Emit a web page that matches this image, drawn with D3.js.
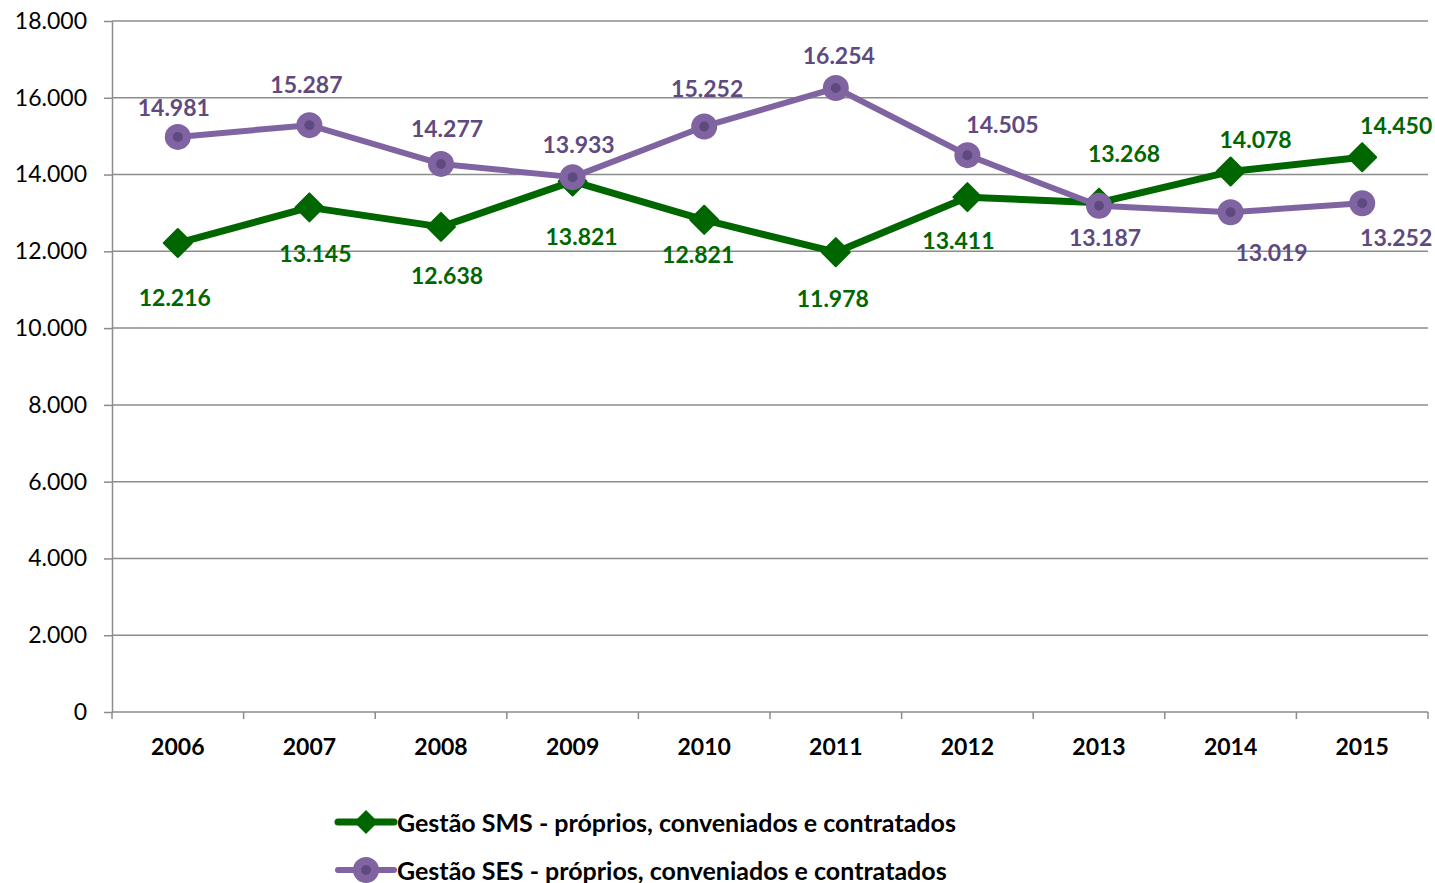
<!DOCTYPE html>
<html>
<head>
<meta charset="utf-8">
<script src="https://cdn.jsdelivr.net/npm/d3@7"></script>
<style>
  body { margin: 0; background: #fff; }
  svg { display: block; font-family: Lato, "Noto Sans", sans-serif; }
</style>
</head>
<body>
<svg width="1435" height="883"></svg>
<script>
const YEARS = ['2006', '2007', '2008', '2009', '2010', '2011', '2012', '2013', '2014', '2015'];
const SMS_VALUES = [12216, 13145, 12638, 13821, 12821, 11978, 13411, 13268, 14078, 14450];
const SES_VALUES = [14981, 15287, 14277, 13933, 15252, 16254, 14505, 13187, 13019, 13252];
const Y_TICKS = [0, 2000, 4000, 6000, 8000, 10000, 12000, 14000, 16000, 18000];
const SERIES_NAMES = ['Gestão SMS - próprios, conveniados e contratados', 'Gestão SES - próprios, conveniados e contratados'];

// label offsets (layout only), relative to the point
const SMS_LABEL_OFFSETS = [[-3, 54], [6, 46], [6, 48], [9, 55], [-6, 34], [-3, 46], [-9, 43], [25, -50], [25, -33], [34, -32]];
const SES_LABEL_OFFSETS = [[-4, -30], [-3, -41], [6, -36], [6, -33], [3, -38], [3, -33], [35, -31], [6, 31], [41, 40], [34, 34]];

const GREEN = '#006600';
const PURPLE = '#8064a2';
const PURPLE_DARK = '#5f4a80';
const GRID = '#8c8c8c';

const MARGIN = {left: 112, right: 1428, top: 21, bottom: 712};

const x = d3.scaleBand().domain(YEARS).range([MARGIN.left, MARGIN.right]);
const y = d3.scaleLinear().domain([0, 18000]).range([MARGIN.bottom, MARGIN.top]);
const fmt = d3.formatLocale({decimal: ',', thousands: '.', grouping: [3]}).format(',d');

const svg = d3.select('svg');

// gridlines
svg.append('g').selectAll('line').data(Y_TICKS.filter(d => d > 0)).enter()
    .append('line')
    .attr('x1', MARGIN.left).attr('x2', MARGIN.right)
    .attr('y1', d => y(d)).attr('y2', d => y(d))
    .attr('stroke', GRID).attr('stroke-width', 1.5);

// y axis
const yAxis = svg.append('g')
    .attr('transform', `translate(${MARGIN.left},0)`)
    .call(d3.axisLeft(y).tickValues(Y_TICKS).tickFormat(d => d === 0 ? '0' : fmt(d)).tickSize(8).tickSizeOuter(0).tickPadding(17));
yAxis.selectAll('line, path').attr('stroke', GRID).attr('stroke-width', 1.5);
yAxis.selectAll('text').attr('font-size', 23).attr('fill', '#000').attr('font-family', 'Lato');

// x axis: ticks at band boundaries
const xAxis = svg.append('g').attr('transform', `translate(0,${MARGIN.bottom})`);
xAxis.append('line').attr('x1', MARGIN.left).attr('x2', MARGIN.right)
    .attr('stroke', GRID).attr('stroke-width', 1.5);
xAxis.selectAll('.tk').data(YEARS.concat(['end'])).enter()
    .append('line')
    .attr('x1', (d, i) => MARGIN.left + i * x.step()).attr('x2', (d, i) => MARGIN.left + i * x.step())
    .attr('y1', 0).attr('y2', 7)
    .attr('stroke', GRID).attr('stroke-width', 1.5);
xAxis.selectAll('.yr').data(YEARS).enter()
    .append('text')
    .attr('x', d => x(d) + x.bandwidth() / 2)
    .attr('y', 34)
    .attr('dominant-baseline', 'central')
    .attr('text-anchor', 'middle')
    .attr('font-size', 23).attr('font-weight', 'bold')
    .text(d => d);

const line = d3.line().x((d, i) => x(YEARS[i]) + x.bandwidth() / 2).y(d => y(d));

// SMS series
svg.append('path').datum(SMS_VALUES)
    .attr('d', line).attr('fill', 'none')
    .attr('stroke', GREEN).attr('stroke-width', 7).attr('stroke-linejoin', 'round');
svg.append('g').selectAll('path').data(SMS_VALUES).enter()
    .append('path')
    .attr('transform', (d, i) => `translate(${x(YEARS[i]) + x.bandwidth() / 2},${y(d)})`)
    .attr('d', 'M0,-14L14,0L0,14L-14,0Z')
    .attr('fill', GREEN).attr('stroke', GREEN).attr('stroke-width', 2).attr('stroke-linejoin', 'round');

// SES series
svg.append('path').datum(SES_VALUES)
    .attr('d', line).attr('fill', 'none')
    .attr('stroke', PURPLE).attr('stroke-width', 6).attr('stroke-linejoin', 'round');
svg.append('g').selectAll('circle').data(SES_VALUES).enter()
    .append('circle')
    .attr('cx', (d, i) => x(YEARS[i]) + x.bandwidth() / 2)
    .attr('cy', d => y(d))
    .attr('r', 9)
    .attr('fill', PURPLE_DARK).attr('stroke', PURPLE).attr('stroke-width', 8);

// data labels
function labels(values, offsets, color) {
    svg.append('g').selectAll('text').data(values).enter()
        .append('text')
        .attr('x', (d, i) => x(YEARS[i]) + x.bandwidth() / 2 + offsets[i][0])
        .attr('y', (d, i) => y(d) + offsets[i][1])
        .attr('text-anchor', 'middle')
        .attr('dominant-baseline', 'central')
        .attr('font-size', 23).attr('font-weight', 'bold')
        .attr('fill', color)
        .text(d => fmt(d));
}
labels(SMS_VALUES, SMS_LABEL_OFFSETS, GREEN);
labels(SES_VALUES, SES_LABEL_OFFSETS, PURPLE_DARK);

// legend
const legend = svg.append('g');
const LEGEND_Y = [822, 870];
SERIES_NAMES.forEach((name, i) => {
    const g = legend.append('g').attr('transform', `translate(0,${LEGEND_Y[i]})`);
    const color = i === 0 ? GREEN : PURPLE;
    g.append('line').attr('x1', 338).attr('x2', 394).attr('stroke', color)
        .attr('stroke-width', i === 0 ? 7 : 6).attr('stroke-linecap', 'round');
    if (i === 0) {
        g.append('path').attr('transform', 'translate(366,0)').attr('d', 'M0,-12L12,0L0,12L-12,0Z').attr('fill', GREEN);
    } else {
        g.append('circle').attr('cx', 366).attr('r', 9).attr('fill', PURPLE_DARK)
            .attr('stroke', PURPLE).attr('stroke-width', 8);
    }
    g.append('text').attr('x', 397).attr('dominant-baseline', 'central')
        .attr('font-size', 25).attr('font-weight', 'bold').attr('fill', '#000')
        .text(name);
});
</script>
</body>
</html>
